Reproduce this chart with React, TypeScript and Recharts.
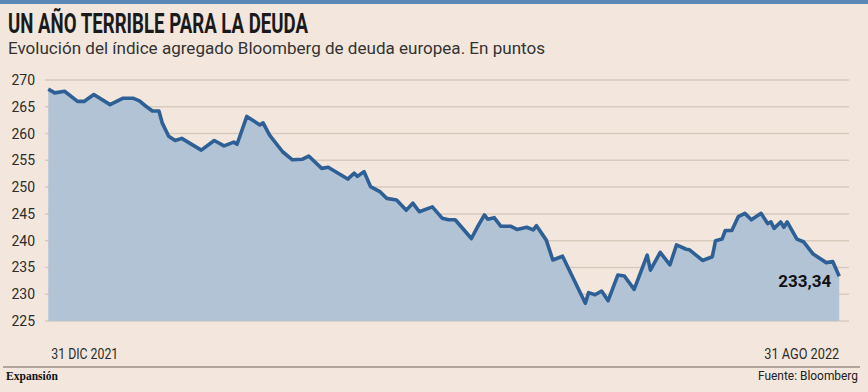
import React from 'react';
import { ComposedChart, Area, XAxis, YAxis, CartesianGrid } from 'recharts';

// días desde el 31 dic 2021 y valor del índice
const days = [
  0, 2, 5, 9, 11, 14, 19, 23, 26, 28, 30, 32, 34, 35, 37, 39, 41, 47, 51, 54,
  57, 58, 61, 65, 66, 68, 72, 75, 78, 80, 84, 86, 92, 94, 95, 97, 99, 102, 104, 107,
  110, 112, 114, 118, 121, 123, 125, 130, 132, 134, 135, 137, 139, 142, 144, 147, 149, 150, 153, 155,
  158, 165, 166, 168, 170, 172, 175, 177, 180, 184, 185, 188, 191, 193, 196, 197, 201, 204, 205, 207,
  208, 210, 212, 214, 216, 219, 221, 222, 223, 225, 226, 227, 230, 232, 235, 239, 241, 243,
];
const values = [
  268.3, 267.6, 267.9, 266.0, 266.0, 267.3, 265.4, 266.6, 266.6, 266.1, 265.1, 264.2, 264.2, 262.0, 259.5, 258.7, 259.1, 256.9, 258.7, 257.7,
  258.4, 258.0, 263.2, 261.6, 262.0, 259.7, 256.6, 255.1, 255.2, 255.8, 253.5, 253.7, 251.5, 252.6, 252.0, 252.9, 250.1, 249.1, 247.9, 247.6,
  245.7, 247.0, 245.4, 246.3, 244.2, 243.9, 243.9, 240.4, 242.7, 244.8, 244.0, 244.3, 242.7, 242.7, 242.1, 242.5, 242.0, 242.8, 240.1, 236.4,
  237.1, 228.3, 230.3, 229.9, 230.6, 228.8, 233.6, 233.4, 230.9, 237.3, 234.5, 237.8, 235.5, 239.2, 238.4, 238.3, 236.3, 237.0, 240.0, 240.3,
  241.9, 241.9, 244.5, 245.1, 243.9, 245.1, 243.2, 243.5, 242.3, 243.5, 242.5, 243.5, 240.3, 239.8, 237.5, 235.9, 236.1, 233.34,
];
const yTicks = [225, 230, 235, 240, 245, 250, 255, 260, 265, 270];
const xTicks = [0, 243];
const xTickLabels = ['31 DIC 2021', '31 AGO 2022'];
const lastLabel = '233,34';

const data = days.map((d, i) => ({ day: d, value: values[i] }));

const BG = '#f3e7dd';
const GRID = '#d9cabe';
const LINE = '#2e6096';
const FILL = '#b2c3d6';
const TEXT = '#2b2b2b';

const DateTick = (props: any) => {
  const { x, y, payload, index } = props;
  const first = index === 0;
  return (
    <text
      x={x + (first ? 3 : 0)}
      y={y + 30}
      textAnchor={first ? 'start' : 'end'}
      fontFamily="Roboto, sans-serif"
      fontSize={14}
      fill={TEXT}
      textLength={first ? 67 : 75}
      lengthAdjust="spacingAndGlyphs"
    >
      {xTickLabels[xTicks.indexOf(payload.value)]}
    </text>
  );
};

const EndLabel = (props: any) => {
  const { x, y, index } = props;
  if (index !== data.length - 1) return null;
  return (
    <text
      x={x - 8}
      y={y + 11}
      textAnchor="end"
      fontFamily="Roboto, sans-serif"
      fontWeight={700}
      fontSize={17}
      fill="#111"
    >
      {lastLabel}
    </text>
  );
};

export default function App() {
  return (
    <div
      style={{
        position: 'absolute',
        left: 0,
        top: 0,
        width: 868,
        height: 392,
        background: BG,
        overflow: 'hidden',
      }}
    >
      <svg width={868} height={392} style={{ position: 'absolute', left: 0, top: 0 }}>
        <rect x={0} y={0} width={868} height={4} fill="#5b87b6" />
        <text
          x={8}
          y={33}
          fontFamily="Roboto, sans-serif"
          fontWeight={700}
          fontSize={28}
          fill="#1a1a1a"
          textLength={300}
          lengthAdjust="spacingAndGlyphs"
        >
          UN AÑO TERRIBLE PARA LA DEUDA
        </text>
        <text x={8} y={54} fontFamily="Roboto, sans-serif" fontSize={16.3} fill="#333" textLength={537} lengthAdjust="spacingAndGlyphs">
          Evolución del índice agregado Bloomberg de deuda europea. En puntos
        </text>
        <line x1={3} y1={367} x2={860} y2={367} stroke="#9e8f85" strokeWidth={1.5} />
        <text x={6} y={380} fontFamily="'Liberation Serif', serif" fontWeight={700} fontSize={13} fill="#111" textLength={52} lengthAdjust="spacingAndGlyphs">
          Expansión
        </text>
        <text x={858} y={380} textAnchor="end" fontFamily="Roboto, sans-serif" fontSize={13} fill="#222" textLength={100} lengthAdjust="spacingAndGlyphs">
          Fuente: Bloomberg
        </text>
      </svg>
      <div style={{ position: 'absolute', left: 0, top: 0 }}>
        <ComposedChart width={868} height={392} data={data} margin={{ top: 80, right: 19, left: 0, bottom: 41 }}>
          <CartesianGrid vertical={false} stroke={GRID} strokeWidth={1.5} />
          <XAxis
            dataKey="day"
            type="number"
            domain={[-1, 246]}
            ticks={xTicks}
            tick={<DateTick />}
            tickLine={false}
            axisLine={false}
            height={30}
            interval={0}
          />
          <YAxis
            type="number"
            domain={[225, 270]}
            ticks={yTicks}
            width={45}
            tickLine={false}
            axisLine={false}
            tickMargin={4}
            tick={{ fill: TEXT, fontSize: 14, fontFamily: 'Roboto, sans-serif' }}
            interval={0}
          />
          <Area
            type="linear"
            dataKey="value"
            stroke={LINE}
            strokeWidth={3.6}
            strokeLinejoin="round"
            fill={FILL}
            fillOpacity={1}
            baseValue={225}
            dot={false}
            activeDot={false}
            label={<EndLabel />}
            isAnimationActive={false}
          />
        </ComposedChart>
      </div>
    </div>
  );
}
